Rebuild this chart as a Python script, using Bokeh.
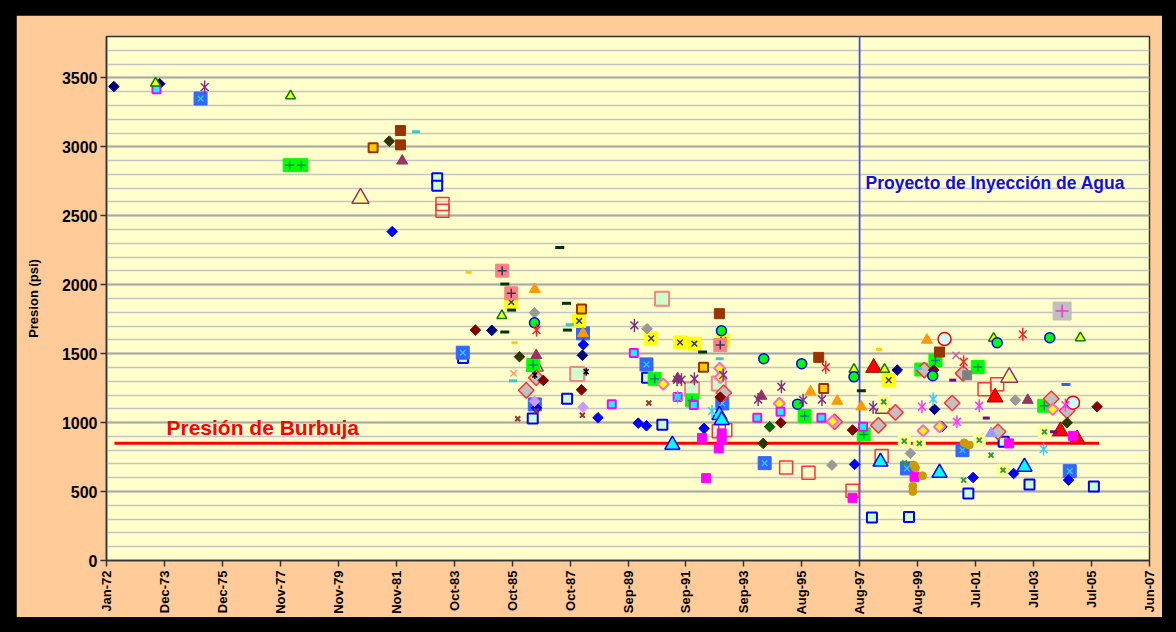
import math
from bokeh.plotting import figure
from bokeh.models import Range1d, FixedTicker, Label
from bokeh.embed import file_html
from bokeh.resources import INLINE

# ---------------- axis definitions ----------------
x_tick_labels = ["Jan-72", "Dec-73", "Dec-75", "Nov-77", "Nov-79", "Nov-81", "Oct-83",
                 "Oct-85", "Oct-87", "Sep-89", "Sep-91", "Sep-93", "Aug-95", "Aug-97",
                 "Aug-99", "Jul-01", "Jul-03", "Jul-05", "Jun-07"]
x_tick_step_days = 720
y_ticks = [0, 500, 1000, 1500, 2000, 2500, 3000, 3500]
y_minor_step = 100
y_max = 3800

# bubble-point pressure line and water-injection start (decimal years / psi)
bubble_x = [1972.27, 2005.77]
bubble_y = [850, 850]
injection_year = 1997.62

# ---------------- series (decimal year, psi) ----------------
navy_diamond_x = [1972.25, 1973.81, 1985.11, 1988.19, 1998.90, 2000.17]
navy_diamond_y = [3437, 3457, 1669, 1488, 1381, 1096]

blue_diamond_x = [1981.72, 1988.22, 1986.63, 1988.72, 1990.09, 1990.37, 1992.33, 1997.45, 2001.48, 2002.86, 2004.73]
blue_diamond_y = [2385, 1565, 1107, 1035, 996, 977, 958, 697, 602, 631, 583]

pale_green_blue_square_x = [1983.25, 1983.25, 1984.13, 1986.50, 1987.67, 1990.91, 1990.39, 1998.04, 1999.30, 2001.32, 2003.40, 2005.59, 2002.52]
pale_green_blue_square_y = [2772, 2718, 1468, 1030, 1173, 984, 1325, 312, 316, 486, 552, 537, 861]

red_open_square_x = [1983.43, 1983.43, 1992.83, 1993.05, 1995.12, 1995.88, 1997.38, 1998.37, 2001.87, 2002.30]
red_open_square_y = [2586, 2537, 938, 946, 675, 636, 505, 757, 1241, 1279]

blue_x_square_x = [1975.20, 1984.12, 1986.57, 1988.21, 1990.37, 1992.95, 1994.39, 1999.23, 2001.12, 2004.77]
blue_x_square_y = [3350, 1507, 1132, 1647, 1422, 1139, 706, 668, 800, 648]

green_plus_square_x = [1978.23, 1978.63, 1986.52, 1990.65, 1991.92, 1995.75, 1997.76, 2000.20, 2001.64, 2003.90, 1999.72]
green_plus_square_y = [2867, 2867, 1417, 1318, 1161, 1047, 914, 1451, 1403, 1122, 1385]

yellow_triangle_green_x = [1973.67, 1978.26, 1985.45, 1997.43, 1998.47, 2002.18, 2005.13]
yellow_triangle_green_y = [3462, 3369, 1775, 1386, 1386, 1611, 1615]

magenta_cyan_square_x = [1973.70, 1989.19, 1989.94, 1991.98, 1994.14, 1994.93, 1996.32, 1997.74, 1991.43]
magenta_cyan_square_y = [3418, 1134, 1504, 1127, 1035, 1078, 1035, 970, 1185]

purple_asterisk_x = [1975.34, 1989.96, 1991.41, 1991.56, 1992.00, 1992.98, 1994.96, 1994.17, 1995.70, 1996.34, 1998.08]
purple_asterisk_y = [3433, 1705, 1311, 1311, 1318, 1345, 1260, 1168, 1163, 1168, 1112]

dark_olive_diamond_x = [1981.62, 1986.05, 1994.34, 2000.42, 2004.68]
dark_olive_diamond_y = [3041, 1478, 849, 970, 999]

dark_green_diamond_x = [1994.56]
dark_green_diamond_y = [970]

brown_square_x = [1982.00, 1982.00, 1992.85, 1996.23, 2000.34]
brown_square_y = [3118, 3014, 1790, 1473, 1512]

orange_sq_brown_x = [1981.07, 1988.16, 1992.31, 1996.40]
orange_sq_brown_y = [2994, 1824, 1401, 1248]

plum_triangle_x = [1982.06, 1986.62, 1994.28, 1991.43, 2003.34]
plum_triangle_y = [2898, 1488, 1192, 1320, 1163]

pale_yellow_triangle_x = [1980.64, 1986.57, 2002.71, 1998.44]
pale_yellow_triangle_y = [2627, 1410, 1328, 1103]

yellow_x_square_x = [1985.77, 1988.08, 1990.53, 1991.51, 1992.00, 1992.98, 1998.61]
yellow_x_square_y = [1874, 1737, 1611, 1582, 1572, 1599, 1308]

salmon_plus_square_x = [1985.46, 1985.77, 1992.88]
salmon_plus_square_y = [2102, 1938, 1562]

dark_green_dash_x = [1985.55, 1985.78, 1985.55, 1987.42, 1987.65, 1987.68, 1992.28, 1997.68]
dark_green_dash_y = [2005, 1816, 1657, 2269, 1865, 1671, 1512, 1231]

teal_dash_x = [1982.53, 1987.76, 1985.83, 1992.86, 1999.61]
teal_dash_y = [3110, 1710, 1303, 1463, 1393]

yellow_dash_x = [1984.32, 1985.88, 1998.28]
yellow_dash_y = [2090, 1579, 1531]

orange_triangle_x = [1986.57, 1988.21, 1995.95, 1996.86, 1997.68, 1999.91]
orange_triangle_y = [1967, 1647, 1224, 1156, 1115, 1599]

gray_diamond_x = [1986.56, 1990.39, 1996.68, 1999.35, 2002.92]
gray_diamond_y = [1797, 1681, 692, 777, 1163]

gray_square_x = [2001.28]
gray_square_y = [1343]

green_circle_blue_x = [1986.56, 1992.92, 1994.36, 1995.65, 1995.51, 1997.43, 2000.11, 2002.30, 2004.09]
green_circle_blue_y = [1724, 1666, 1463, 1427, 1134, 1332, 1340, 1579, 1615]

red_asterisk_x = [1986.63, 1996.47, 2001.16, 2003.17]
red_asterisk_y = [1671, 1401, 1441, 1640]

plum_x_x = [2000.90]
plum_x_y = [1488]

salmon_pale_square_x = [1990.90, 1988.01, 1991.92, 1992.83]
salmon_pale_square_y = [1898, 1352, 1241, 1284]

gray_red_diamond_x = [1986.62, 1986.28, 1993.00, 1996.77, 1998.84, 1998.26, 1999.82, 2001.14, 2000.77, 2002.33, 2004.14, 2004.68]
gray_red_diamond_y = [1325, 1234, 1216, 1006, 1074, 980, 1381, 1357, 1142, 933, 1173, 1086]

cyan_triangle_blue_x = [1991.25, 1992.85, 1992.93, 1998.33, 2000.34, 2003.23]
cyan_triangle_blue_y = [839, 1054, 1018, 716, 636, 679]

magenta_square_x = [1992.26, 1992.40, 1992.93, 1992.93, 1992.83, 1997.38, 1999.49, 2002.70, 2004.88]
magenta_square_y = [888, 597, 922, 878, 813, 454, 607, 849, 904]

dark_red_diamond_x = [1984.55, 1986.86, 1988.16, 1992.88, 1994.94, 1997.38, 2005.70, 2000.14]
dark_red_diamond_y = [1671, 1306, 1238, 1185, 999, 946, 1115, 1381]

light_violet_diamond_x = [1986.56, 1988.21]
light_violet_diamond_y = [1154, 1112]

lavender_triangle_x = [2002.09]
lavender_triangle_y = [922]

brown_x_x = [1985.99, 1988.19, 1990.45, 1986.62]
brown_x_y = [1028, 1054, 1142, 1085]

black_asterisk_x = [1986.57, 1988.32]
black_asterisk_y = [1345, 1369]

cyan_asterisk_x = [1991.43, 1992.60, 2000.12, 2003.88]
cyan_asterisk_y = [1185, 1083, 1171, 808]

magenta_asterisk_x = [1999.74, 2001.69, 2000.93, 2004.62]
magenta_asterisk_y = [1115, 1122, 1006, 1127]

pale_yellow_green_x_x = [1998.44, 2003.91, 2001.69, 1999.65, 1999.14, 2002.50]
pale_yellow_green_x_y = [1151, 933, 873, 849, 866, 655]

green_x_x = [1999.15, 2002.09, 2001.16]
green_x_y = [708, 764, 583]

orange_circle_x = [1999.46, 1999.52, 1999.76, 1999.43, 1999.43, 2001.35, 2001.18]
orange_circle_y = [692, 672, 614, 539, 501, 837, 853]

red_triangle_x = [1998.10, 2002.23, 2004.45, 2005.02]
red_triangle_y = [1398, 1183, 938, 880]

lightcyan_circle_red_x = [2000.51, 2004.88]
lightcyan_circle_red_y = [1606, 1144]

gray_square_plus_x = [2004.51]
gray_square_plus_y = [1809]

purple_dash_x = [2000.79, 2001.93, 2004.22]
purple_dash_y = [1308, 1033, 933]

blue_dash_x = [2004.64]
blue_dash_y = [1277]

yellow_diamond_pink_x = [1990.94, 1994.89, 1992.86, 1992.88, 1996.70, 2000.34, 1999.78, 2004.19]
yellow_diamond_pink_y = [1279, 1139, 1393, 1328, 1009, 970, 941, 1096]

light_salmon_x_x = [1985.85]
light_salmon_x_y = [1357]

# ---------------- styles ----------------
V = math.pi / 2
D = math.pi / 4   # square rotated 45 degrees -> Excel style diamond


def star(color, size=12, lw=1.5):
    return [("x", size * 0.85, None, color, lw, 0), ("dash", size, None, color, lw, V)]


def diamond(fill, line, size=7.5, lw=1):
    return [("square", size, fill, line, lw, D)]


series = [
    (red_open_square_x, red_open_square_y, [("square", 13, None, "#FF3333", 1.5, 0)]),
    (salmon_pale_square_x, salmon_pale_square_y, [("square", 14, "#CCFFCC", "#FF8080", 2, 0)]),
    (pale_green_blue_square_x, pale_green_blue_square_y, [("square", 10, "#CCFFCC", "#0000FF", 2, 0)]),
    (pale_yellow_triangle_x, pale_yellow_triangle_y, [("triangle", 17, "#FFFF99", "#993366", 1.5, 0)]),
    (gray_square_plus_x, gray_square_plus_y, [("square", 18, "#C0C0C0", "#C0C0C0", 1, 0), ("cross", 13, None, "#FF33CC", 1.5, 0)]),
    (blue_x_square_x, blue_x_square_y, [("square", 13, "#3366FF", "#3366FF", 1, 0), ("x", 8, None, "#33CCFF", 1.3, 0)]),
    (green_plus_square_x, green_plus_square_y, [("square", 13, "#00FF00", "#00FF00", 1, 0), ("cross", 9, None, "#008080", 1.5, 0)]),
    (yellow_x_square_x, yellow_x_square_y, [("square", 13, "#FFFF00", "#FFFF00", 1, 0), ("x", 8, None, "#333399", 1.5, 0)]),
    (salmon_plus_square_x, salmon_plus_square_y, [("square", 13, "#FF8080", "#FF8080", 1, 0), ("cross", 9, None, "#333366", 1.5, 0)]),
    (pale_yellow_green_x_x, pale_yellow_green_x_y, [("square", 12, "#FFFF99", "#FFFF99", 1, 0), ("x", 7, None, "#339933", 2, 0)]),
    (gray_red_diamond_x, gray_red_diamond_y, diamond("#C0C0C0", "#FF3333", 11, 1.5)),
    (cyan_triangle_blue_x, cyan_triangle_blue_y, [("triangle", 15, "#00FFFF", "#0000FF", 1.5, 0)]),
    (red_triangle_x, red_triangle_y, [("triangle", 16, "#FF0000", "#990000", 1, 0)]),
    (lightcyan_circle_red_x, lightcyan_circle_red_y, [("circle", 13, "#CCFFFF", "#FF0000", 1.5, 0)]),
    (navy_diamond_x, navy_diamond_y, diamond("#000080", "#000080")),
    (blue_diamond_x, blue_diamond_y, diamond("#0000FF", "#0000FF")),
    (dark_olive_diamond_x, dark_olive_diamond_y, diamond("#333300", "#333300")),
    (dark_green_diamond_x, dark_green_diamond_y, diamond("#006600", "#006600")),
    (dark_red_diamond_x, dark_red_diamond_y, diamond("#800000", "#800000")),
    (light_violet_diamond_x, light_violet_diamond_y, diamond("#CC99FF", "#CC99FF")),
    (gray_diamond_x, gray_diamond_y, diamond("#999999", "#999999")),
    (yellow_diamond_pink_x, yellow_diamond_pink_y, diamond("#FFFF00", "#FF66CC", 8, 2)),
    (magenta_cyan_square_x, magenta_cyan_square_y, [("square", 8, "#00FFFF", "#FF00FF", 2, 0)]),
    (orange_sq_brown_x, orange_sq_brown_y, [("square", 9, "#FFCC00", "#993300", 2, 0)]),
    (brown_square_x, brown_square_y, [("square", 10, "#993300", "#993300", 1, 0)]),
    (magenta_square_x, magenta_square_y, [("square", 9, "#FF00FF", "#FF00FF", 1, 0)]),
    (gray_square_x, gray_square_y, [("square", 9, "#808080", "#808080", 1, 0)]),
    (yellow_triangle_green_x, yellow_triangle_green_y, [("triangle", 10, "#FFFF00", "#008000", 1.5, 0)]),
    (plum_triangle_x, plum_triangle_y, [("triangle", 11, "#993366", "#993366", 1, 0)]),
    (orange_triangle_x, orange_triangle_y, [("triangle", 11, "#FF9900", "#FF9900", 1, 0)]),
    (lavender_triangle_x, lavender_triangle_y, [("triangle", 11, "#9999FF", "#9999FF", 1, 0)]),
    (green_circle_blue_x, green_circle_blue_y, [("circle", 10, "#00FF00", "#0000FF", 1.5, 0)]),
    (orange_circle_x, orange_circle_y, [("circle", 8, "#CC9900", "#CC9900", 1, 0)]),
    (purple_asterisk_x, purple_asterisk_y, star("#7F2F7F", 13)),
    (red_asterisk_x, red_asterisk_y, star("#FF2020", 13)),
    (cyan_asterisk_x, cyan_asterisk_y, star("#33CCFF", 13)),
    (magenta_asterisk_x, magenta_asterisk_y, star("#FF33FF", 13)),
    (black_asterisk_x, black_asterisk_y, star("#000000", 8)),
    (dark_green_dash_x, dark_green_dash_y, [("dash", 9, None, "#003300", 3, 0)]),
    (teal_dash_x, teal_dash_y, [("dash", 8, None, "#33CCCC", 3, 0)]),
    (yellow_dash_x, yellow_dash_y, [("dash", 6, None, "#FFCC00", 3, 0)]),
    (purple_dash_x, purple_dash_y, [("dash", 7, None, "#800080", 3, 0)]),
    (blue_dash_x, blue_dash_y, [("dash", 9, None, "#3366CC", 3, 0)]),
    (brown_x_x, brown_x_y, [("x", 7, None, "#993333", 2, 0)]),
    (green_x_x, green_x_y, [("x", 7, None, "#339933", 2, 0)]),
    (light_salmon_x_x, light_salmon_x_y, [("x", 9, None, "#FF9966", 1.5, 0)]),
    (plum_x_x, plum_x_y, [("x", 10, None, "#CC6699", 1.5, 0)]),
]


def to_days(years):
    return [(v - 1972.0) * 365.25 for v in years]


FONT = "Liberation Sans"
PEACH = "#FFCC99"

n_ticks = len(x_tick_labels)
x_ticks = [k * x_tick_step_days for k in range(n_ticks)]

p = figure(width=1146, height=602, output_backend="svg", toolbar_location=None,
           x_range=Range1d(0, x_ticks[-1]), y_range=Range1d(0, y_max),
           min_border_left=90, min_border_right=13, min_border_top=21, min_border_bottom=56)
p.background_fill_color = "#FFFFCC"
p.border_fill_color = PEACH
p.outline_line_color = "#333333"
p.outline_line_width = 1.5

# axes
p.xaxis.ticker = FixedTicker(ticks=x_ticks)
p.xaxis.major_label_overrides = {t: lab for t, lab in zip(x_ticks, x_tick_labels)}
p.xaxis.major_label_orientation = math.pi / 2
p.yaxis.ticker = FixedTicker(ticks=y_ticks, minor_ticks=list(range(0, y_max + 1, y_minor_step)))
for ax in (p.xaxis, p.yaxis):
    ax.major_label_text_font = FONT
    ax.major_label_text_font_style = "bold"
    ax.major_label_text_color = "#000000"
    ax.axis_line_color = "#333333"
    ax.axis_line_width = 1.5
    ax.major_tick_line_color = "#333333"
    ax.major_tick_line_width = 1.5
    ax.major_tick_in = 0
    ax.major_tick_out = 6
    ax.minor_tick_line_color = None
p.xaxis.major_label_text_font_size = "13px"
p.xaxis.major_label_standoff = 4
p.yaxis.major_label_text_font_size = "16px"
p.yaxis.major_label_standoff = 3
p.yaxis.axis_label = "Presion (psi)"
p.yaxis.axis_label_text_font = FONT
p.yaxis.axis_label_text_font_style = "bold"
p.yaxis.axis_label_text_font_size = "13px"
p.yaxis.axis_label_text_color = "#000000"
p.yaxis.axis_label_standoff = 18

p.xgrid.visible = False
p.ygrid.grid_line_color = "#A8A8A8"
p.ygrid.grid_line_width = 2
p.ygrid.minor_grid_line_color = "#C4C4C4"
p.ygrid.minor_grid_line_width = 1.5

# reference lines
p.line(to_days(bubble_x), bubble_y, line_color="#FF0000", line_width=3)
inj = to_days([injection_year])[0]
p.segment(x0=[inj], y0=[0], x1=[inj], y1=[y_max], line_color="#4B4BF0", line_width=1.8)

# scatter series
for xs, ys, layers in series:
    xd = to_days(xs)
    for marker, size, fill, line, lw, ang in layers:
        kw = dict(marker=marker, size=size, line_color=line, line_width=lw, angle=ang)
        if fill is None:
            kw["fill_alpha"] = 0
        else:
            kw["fill_color"] = fill
        p.scatter(xd, ys, **kw)

# labels
p.add_layout(Label(x=to_days([1974.04])[0], y=967, text="Presión de Burbuja",
                   text_font=FONT, text_font_style="bold", text_font_size="21px",
                   text_color="#FF0000", text_baseline="alphabetic"))
p.add_layout(Label(x=to_days([1997.82])[0], y=2736, text="Proyecto de Inyección de Agua",
                   text_font=FONT, text_font_style="bold", text_font_size="17.5px",
                   text_color="#1010E0", text_baseline="alphabetic"))

html = file_html(p, INLINE, title="Presion")
html = html.replace("<head>", "<head><style>html, body {background-color: #000000;} "
                    "body {margin: 15px 0 0 16px !important;}</style>", 1)
open("out.html", "w").write(html)
